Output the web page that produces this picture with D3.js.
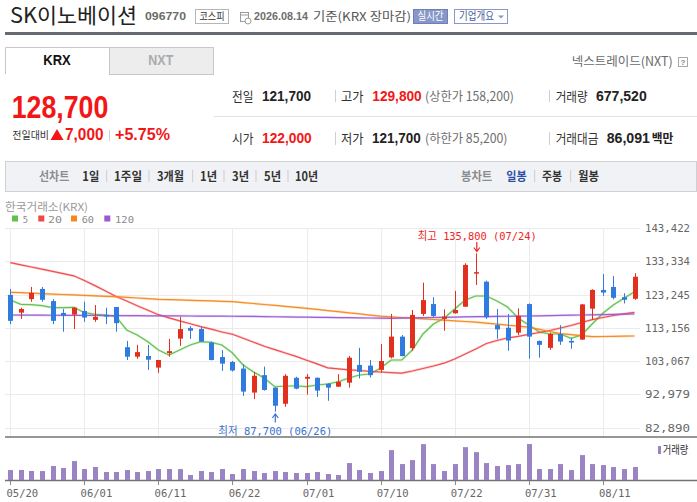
<!DOCTYPE html>
<html><head><meta charset="utf-8">
<script src="https://cdn.jsdelivr.net/npm/d3@7"></script>
<style>
body{margin:0;background:#fff;overflow:hidden}
svg{display:block}
</style>
</head><body>
<svg id="c" width="697" height="502"></svg>
<script>
// ---------- DATA ----------
const dates=["05/20","05/21","05/22","05/26","05/27","05/28","05/29","06/01","06/02","06/04",
"06/05","06/08","06/09","06/10","06/11","06/12","06/15","06/16","06/17","06/18",
"06/19","06/22","06/23","06/24","06/25","06/26","06/29","06/30","07/01","07/02",
"07/03","07/06","07/07","07/08","07/09","07/10","07/13","07/14","07/15","07/16",
"07/20","07/21","07/22","07/23","07/24","07/27","07/28","07/29","07/30","07/31",
"08/03","08/04","08/05","08/06","08/07","08/10","08/11","08/12","08/13","08/14"];
const openP=[123200,117800,121900,125000,121300,117700,117200,118300,115600,117100,
119500,107300,104400,104600,101100,105500,109900,113100,112800,108700,
104300,102800,100800,93500,98800,95000,90100,98000,97700,98000,
96200,95300,96500,101900,101700,100400,104200,110500,107000,117400,
120400,115900,117600,119600,129700,127200,114000,113200,111700,120400,
109200,107100,111300,109200,109600,119000,124700,125600,122500,122000];
const highP=[125000,119300,125600,125600,121900,118900,119500,121100,120100,119300,
119500,109200,108000,108000,103400,109800,116500,113700,113500,109000,
106400,103100,102100,99800,101400,95100,99100,98300,99100,98100,
96300,99100,104600,107100,103400,108300,117400,111000,118600,126900,
122500,118800,124400,132800,135800,127500,118900,117400,119100,120600,
109300,111700,114000,110200,120400,124900,129500,128900,123700,129800];
const lowP=[114300,115900,121100,121100,114300,112000,112800,115000,115000,114300,
112000,103400,103800,100400,99500,104400,107700,109800,108900,103300,
100100,99900,92500,91500,94100,87700,89200,94500,92900,92200,
91000,95200,95000,97800,98100,99500,103900,104500,106200,116800,
116400,112300,117500,119500,126200,115900,109800,106200,111000,103800,
104100,106500,108000,106800,109500,115600,122900,121800,120600,121700];
const closeP=[115300,118900,123800,121700,115300,116900,119300,116300,116500,116600,
114600,104400,105800,103500,103400,106100,112800,112300,109000,103400,
102300,100200,93800,98600,94300,89500,98600,94700,98300,94100,
95000,96800,104100,99800,98800,103100,110500,104600,117100,121600,
116800,116600,118600,132300,130100,116400,112700,109300,116800,110500,
108000,111300,109000,108700,120300,124700,123900,122300,121700,128700];
const volume=[521000,525000,470000,468000,730000,625000,990000,573000,680000,417000,
420000,521000,417000,469000,573000,575000,571000,261000,469000,417000,
573000,313000,573000,469000,365000,469000,417000,365000,365000,417000,
313000,261000,886000,521000,365000,469000,1564000,834000,1042000,1876000,
834000,469000,834000,1720000,1459000,886000,730000,782000,834000,1880000,
573000,573000,834000,521000,1303000,834000,782000,678000,573000,677520];
const ma5=[121630,120330,120200,119900,119290,119290,119410,117770,117290,117070,
116560,112520,111000,108960,106440,104920,106440,107960,108960,108780,
107960,105530,101880,99750,97930,95280,95500,95500,95340,95800,
96100,96800,97930,98840,99140,100970,103400,103400,106440,111300,
114340,116070,118900,121630,122850,122850,121330,119500,116160,114040,
111910,111300,111300,109990,111000,114340,117590,120110,122150,124150];
const ma20=[132970,132300,131660,130990,130320,129660,128990,127560,126010,124370,
122700,121330,119870,118530,117170,116220,115310,114430,113550,112760,
111910,111240,110020,108810,107590,106560,105530,104520,103340,102210,
101030,100690,100420,100210,99960,99750,99570,99390,100060,100820,
101580,102430,103700,105220,106740,108410,109320,110080,110600,111210,
111760,112360,113120,113880,114800,115650,116310,116920,117440,117890];
const ma60=[123970,123850,123700,123580,123430,123300,123180,123030,122910,122760,
122640,122420,122240,122030,121850,121750,121660,121540,121450,121360,
121240,121150,120840,120570,120270,119990,119690,119410,119110,118780,
118410,118080,117740,117410,117040,116710,116500,116310,116100,115890,
115710,115490,115280,115100,114890,114580,114280,113970,113670,113370,
112730,112060,111420,111120,110780,110480,110540,110570,110630,110690];
const ma120=[117070,117050,117040,117020,117000,116980,116960,116950,116930,116910,
116890,116870,116860,116840,116820,116800,116790,116770,116750,116730,
116720,116700,116680,116640,116590,116550,116510,116460,116420,116370,
116330,116290,116250,116200,116160,116110,116070,116130,116190,116250,
116310,116380,116440,116500,116560,116600,116640,116690,116730,116770,
116830,116890,116950,117010,117070,117140,117200,117260,117320,117380];
const priceTicks=[143422,133334,123245,113156,103067,92979,82890];
const dateTicks=["05/20","06/01","06/11","06/22","07/01","07/10","07/22","07/31","08/11"];
const maNames=["5","20","60","120"];
const maColors=["#5fc24a","#f04848","#f7871c","#9b5ad2"];

// ---------- SCALES ----------
const svg=d3.select("#c");
const KR="'Noto Sans CJK KR','Noto Sans',sans-serif";
const AR="'Liberation Sans',Arial,sans-serif";
const MONO="'DejaVu Sans Mono','Noto Sans CJK KR',monospace";
const x=d3.scalePoint().domain(dates).range([10.3,634.5]);
const y=d3.scaleLinear().domain([82890,143422]).range([427.5,228.3]);
const yv=d3.scaleLinear().domain([0,2250000]).range([480,437]);

function txt(g,s,o){
  const t=g.append("text").text(s).attr("x",o.x).attr("y",o.y)
   .attr("font-family",o.f||KR).attr("font-size",o.s||12)
   .attr("fill",o.c||"#333").attr("font-weight",o.w||"normal");
  if(o.a) t.attr("text-anchor",o.a);
  if(o.L){t.attr("textLength",o.L).attr("lengthAdjust","spacingAndGlyphs");}
  return t;
}
const H=svg.append("g");

// ---------- HEADER ----------
txt(H,"SK이노베이션",{x:10,y:22.5,s:21,c:"#222",L:127});
txt(H,"096770",{x:145,y:20.3,s:11,f:AR,w:"bold",c:"#6b6b6b",L:41});
H.append("rect").attr("x",195.5).attr("y",9.5).attr("width",33).attr("height",14).attr("fill","#fff").attr("stroke","#b5b5b5");
txt(H,"코스피",{x:212,y:20.2,s:10,a:"middle",c:"#333",L:25});
// calendar icon
H.append("rect").attr("x",240.5).attr("y",12.5).attr("width",8).attr("height",9).attr("fill","none").attr("stroke","#9a9a9a");
H.append("line").attr("x1",240.5).attr("x2",248.5).attr("y1",15).attr("y2",15).attr("stroke","#9a9a9a");
H.append("circle").attr("cx",248).attr("cy",21).attr("r",3).attr("fill","#fff").attr("stroke","#9a9a9a");
txt(H,"2026.08.14",{x:254,y:20.3,s:11,f:AR,w:"bold",c:"#6e6e6e",L:54});
txt(H,"기준(KRX 장마감)",{x:313,y:20.6,s:12,c:"#555",L:98});
H.append("rect").attr("x",413.5).attr("y",9.5).attr("width",34).attr("height",14).attr("fill","#8797c7").attr("stroke","#6f80b6");
txt(H,"실시간",{x:430.5,y:20.4,s:11,a:"middle",c:"#fff",L:26});
H.append("rect").attr("x",454.5).attr("y",9.5).attr("width",53).attr("height",14).attr("fill","#fff").attr("stroke","#8797c7");
txt(H,"기업개요",{x:459,y:20.4,s:11,c:"#4a5b99",L:35});
H.append("path").attr("d","M498,15.5 L504,15.5 L501,18.5 Z").attr("fill","#8797c7");
H.append("rect").attr("x",5).attr("y",32).attr("width",692).attr("height",3).attr("fill","#666b72");

// tabs
H.append("path").attr("d","M5.5,74 L5.5,47.5 L109.5,47.5").attr("fill","none").attr("stroke","#c8c8c8");
H.append("rect").attr("x",109.5).attr("y",47.5).attr("width",104).attr("height",27).attr("fill","#ededed").attr("stroke","#c8c8c8");
txt(H,"KRX",{x:43.3,y:65,s:14,f:AR,w:"bold",c:"#111",L:27.4});
txt(H,"NXT",{x:148.3,y:65,s:14,f:AR,w:"bold",c:"#ababab",L:25});
txt(H,"넥스트레이드(NXT)",{x:571.7,y:66,s:12.5,c:"#6a6a6a",L:101});
H.append("rect").attr("x",678.5).attr("y",57.5).attr("width",9).attr("height",9).attr("fill","#fff").attr("stroke","#a8a8a8");
txt(H,"?",{x:683,y:65,s:8,f:AR,w:"bold",a:"middle",c:"#888"});

// price block
txt(H,"128,700",{x:11.7,y:118.3,s:32,f:AR,w:"bold",c:"#f31616",L:96.6});
txt(H,"전일대비",{x:12.3,y:139,s:10.5,c:"#333",L:36.7});
H.append("path").attr("d","M57,129 L63.5,140 L50.5,140 Z").attr("fill","#f31616");
txt(H,"7,000",{x:65,y:140.2,s:16,f:AR,w:"bold",c:"#f31616",L:38.5});
H.append("line").attr("x1",109.5).attr("x2",109.5).attr("y1",130).attr("y2",141).attr("stroke","#cfcfcf");
txt(H,"+5.75%",{x:115,y:140.2,s:16,f:AR,w:"bold",c:"#f31616",L:55});

// info table
H.append("line").attr("x1",214).attr("x2",697).attr("y1",116.5).attr("y2",116.5).attr("stroke","#e3e3e3");
[335.5,549.5].forEach(sx=>{
  [[90,102],[132,145]].forEach(r=>H.append("line").attr("x1",sx).attr("x2",sx).attr("y1",r[0]).attr("y2",r[1]).attr("stroke","#cfcfcf"));
});
const r1=100.7,r2=143.3;
txt(H,"전일",{x:232,y:r1,s:13,c:"#333",L:21.5});
txt(H,"121,700",{x:262,y:r1,s:14,f:AR,w:"bold",c:"#222",L:49});
txt(H,"고가",{x:341,y:r1,s:13,c:"#333",L:22.5});
txt(H,"129,800",{x:372.3,y:r1,s:14,f:AR,w:"bold",c:"#f31616",L:49.4});
txt(H,"(상한가 158,200)",{x:425,y:r1,s:12.5,c:"#6e6e6e",L:89});
txt(H,"거래량",{x:555.7,y:r1,s:13,c:"#333",L:32});
txt(H,"677,520",{x:596,y:r1,s:14,f:AR,w:"bold",c:"#222",L:50.7});
txt(H,"시가",{x:232,y:r2,s:13,c:"#333",L:21.5});
txt(H,"122,000",{x:262,y:r2,s:14,f:AR,w:"bold",c:"#f31616",L:49.7});
txt(H,"저가",{x:341,y:r2,s:13,c:"#333",L:22.5});
txt(H,"121,700",{x:372,y:r2,s:14,f:AR,w:"bold",c:"#222",L:48.7});
txt(H,"(하한가 85,200)",{x:425,y:r2,s:12.5,c:"#6e6e6e",L:82.5});
txt(H,"거래대금",{x:555.7,y:r2,s:13,c:"#333",L:42.6});
txt(H,"86,091",{x:606.7,y:r2,s:14,f:AR,w:"bold",c:"#222",L:43.3});
txt(H,"백만",{x:651.7,y:r2,s:12.5,w:"bold",c:"#222",L:21.6});

// period bar
H.append("rect").attr("x",5.5).attr("y",161.5).attr("width",691).attr("height",30).attr("fill","#f1f2f5").attr("stroke","#cfd0d4");
const pb=181;
txt(H,"선차트",{x:39,y:pb,s:12.5,w:"bold",c:"#8c8c8c",L:30.3});
[["1일",82.3,17],["1주일",114,28],["3개월",157,27],["1년",200,17],["3년",232,17],["5년",264,17],["10년",295,23]]
 .forEach(d=>txt(H,d[0],{x:d[1],y:pb,s:12.5,w:"bold",c:"#333",L:d[2]}));
[106.7,149,192.7,224,256,288,534.7,570.7].forEach(sx=>H.append("line").attr("x1",sx).attr("x2",sx).attr("y1",170).attr("y2",182).attr("stroke","#cccccc"));
txt(H,"봉차트",{x:461,y:pb,s:12.5,w:"bold",c:"#8c8c8c",L:31.3});
txt(H,"일봉",{x:506.3,y:pb,s:12.5,w:"bold",c:"#2f4fa6",L:20.4});
txt(H,"주봉",{x:542,y:pb,s:12.5,w:"bold",c:"#333",L:20});
txt(H,"월봉",{x:578,y:pb,s:12.5,w:"bold",c:"#333",L:21});

// ---------- CHART ----------
const C=svg.append("g");
txt(C,"한국거래소(KRX)",{x:5,y:210.5,s:11,c:"#9a9a9a",L:83});
const legX=[[12,22.7,5.3],[38.3,48,14],[71,81.7,12.3],[104.3,115,19]];
maNames.forEach((n,i)=>{
  C.append("rect").attr("x",legX[i][0]).attr("y",215.5).attr("width",6).attr("height",6).attr("fill",maColors[i]);
  txt(C,n,{x:legX[i][1],y:222.8,s:9.5,f:MONO,c:"#8a8a8a",L:legX[i][2]});
});

// gridlines
C.selectAll(".hg").data(priceTicks).enter().append("line")
 .attr("x1",5).attr("x2",640).attr("y1",d=>Math.round(y(d))+0.5).attr("y2",d=>Math.round(y(d))+0.5)
 .attr("stroke","#ebebeb");
C.selectAll(".vg").data(dateTicks).enter().append("line")
 .attr("x1",d=>Math.round(x(d))+0.5).attr("x2",d=>Math.round(x(d))+0.5).attr("y1",228).attr("y2",437)
 .attr("stroke","#ebebeb");
// y labels
C.selectAll(".yl").data(priceTicks).enter().append("text")
 .attr("x",645).attr("y",d=>y(d)+4).text(d=>d3.format(",")(d))
 .attr("font-family",MONO).attr("font-size",11.2).attr("fill","#666")
 .attr("textLength",45).attr("lengthAdjust","spacingAndGlyphs");

// MA lines
[ma5,ma20,ma60,ma120].forEach((arr,k)=>{
  const line=d3.line().x((d,i)=>x(dates[i])).y(d=>y(d)).curve(d3.curveLinear);
  C.append("path").datum(arr).attr("d",line).attr("fill","none")
   .attr("stroke",maColors[k]).attr("stroke-width",2.4).attr("stroke-opacity",0.25);
  C.append("path").datum(arr).attr("d",line).attr("fill","none")
   .attr("stroke",maColors[k]).attr("stroke-width",1.2).attr("stroke-opacity",0.95);
});

// candles
const up="#e2301f", dn="#2f7bdf";
const cg=C.selectAll(".cd").data(dates).enter().append("g");
cg.append("line")
 .attr("x1",d=>Math.round(x(d))+0.5).attr("x2",d=>Math.round(x(d))+0.5)
 .attr("y1",(d,i)=>y(highP[i])).attr("y2",(d,i)=>y(lowP[i]))
 .attr("stroke",(d,i)=>closeP[i]>=openP[i]?up:dn).attr("stroke-width",1);
cg.append("rect")
 .attr("x",d=>Math.round(x(d))-2)
 .attr("width",5)
 .attr("y",(d,i)=>y(Math.max(openP[i],closeP[i])))
 .attr("height",(d,i)=>Math.max(1.5,Math.abs(y(openP[i])-y(closeP[i]))))
 .attr("fill",(d,i)=>closeP[i]>=openP[i]?up:dn);

// high / low annotation
const hiI=highP.indexOf(d3.max(highP)), loI=lowP.indexOf(d3.min(lowP));
const hx=x(dates[hiI])+1, lx=x(dates[loI])+0.5;
txt(C,"최고 "+d3.format(",")(highP[hiI])+" ("+dates[hiI]+")",{x:hx+0.5,y:240,s:10.8,f:MONO,a:"middle",c:"#f02424",L:119});
C.append("path").attr("d",`M${hx},242 L${hx},251.5 M${hx-3},247.5 L${hx},251.5 L${hx+3},247.5`)
 .attr("fill","none").attr("stroke","#f02424").attr("stroke-width",1.2);
txt(C,"최저 "+d3.format(",")(lowP[loI])+" ("+dates[loI]+")",{x:lx,y:435.3,s:10.8,f:MONO,a:"middle",c:"#3a72d2",L:114});
C.append("path").attr("d",`M${lx},422.5 L${lx},414 M${lx-3},418 L${lx},414 L${lx+3},418`)
 .attr("fill","none").attr("stroke","#3a72d2").attr("stroke-width",1.2);

// frame lines
C.append("line").attr("x1",5).attr("x2",697).attr("y1",437).attr("y2",437).attr("stroke","#737373").attr("stroke-width",1.5);
C.append("line").attr("x1",5).attr("x2",697).attr("y1",480.5).attr("y2",480.5).attr("stroke","#737373").attr("stroke-width",1.3);

// volume
C.selectAll(".vb").data(dates).enter().append("rect")
 .attr("x",d=>Math.round(x(d))-2).attr("width",5)
 .attr("y",(d,i)=>yv(volume[i])).attr("height",(d,i)=>yv(0)-yv(volume[i]))
 .attr("fill","#9a84c4");
C.append("rect").attr("x",658).attr("y",446).attr("width",3).attr("height",8).attr("fill","#9a84c4");
txt(C,"거래량",{x:662.7,y:454,s:11,c:"#333",L:25.6});

// x ticks + labels
C.selectAll(".xt").data(dateTicks).enter().append("line")
 .attr("x1",d=>Math.round(x(d))+0.5).attr("x2",d=>Math.round(x(d))+0.5).attr("y1",481).attr("y2",485)
 .attr("stroke","#8a8a8a");
C.selectAll(".xl").data(dateTicks).enter().append("text")
 .attr("x",d=>x(d)-3.8).attr("y",496.7).text(d=>d)
 .attr("font-family",MONO).attr("font-size",11).attr("fill","#666")
 .attr("textLength",31.7).attr("lengthAdjust","spacingAndGlyphs");
</script>
</body></html>
